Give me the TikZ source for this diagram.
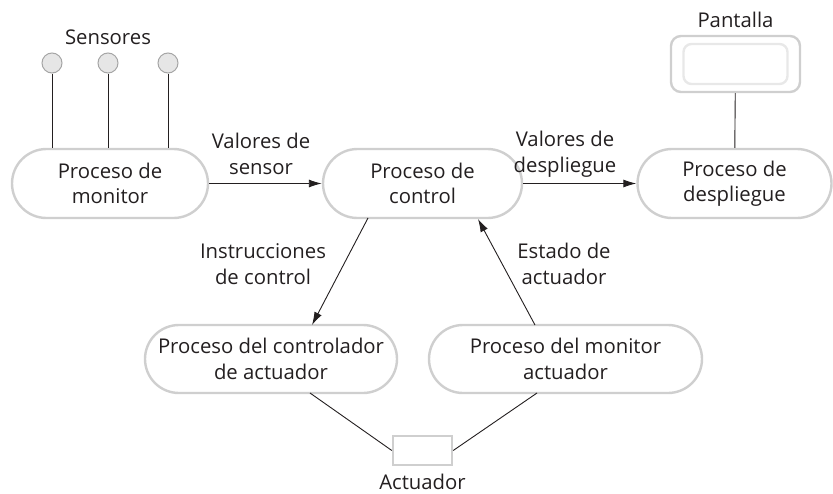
\documentclass[tikz,border=0pt]{standalone}
\usepackage{fontspec}
\setmainfont{Open Sans}
\usetikzlibrary{arrows.meta,shapes.misc}
\definecolor{boxgray}{HTML}{CFCFCF}
\definecolor{innergray}{HTML}{E8E8E8}
\definecolor{sensfill}{HTML}{E6E6E6}
\definecolor{txt}{HTML}{231F20}
\begin{document}
\begin{tikzpicture}[x=1pt,y=-1pt,
  every node/.style={text=txt},
  proc/.style={draw=boxgray,line width=2.4pt,rounded rectangle,minimum height=69pt,align=center,font=\fontsize{20.3}{25.5}\selectfont,fill=white,inner sep=0pt},
  lbl/.style={align=center,font=\fontsize{20.3}{25.5}\selectfont,inner sep=0pt},
  conn/.style={line width=0.9pt,draw=txt},
  arr/.style={conn,-{Latex[length=13pt,width=8pt]}},
  sensor/.style={circle,draw=boxgray!80!black,fill=sensfill,minimum size=20pt,inner sep=0pt,line width=1pt}]
\useasboundingbox (0,0) rectangle (833,493);
% nodes
\node[proc,minimum width=196pt] (mon) at (110,183.5) {Proceso de\\monitor};
\node[proc,minimum width=199pt] (ctl) at (422.5,183.5) {Proceso de\\control};
\node[proc,minimum width=194pt] (dsp) at (734.5,183.5) {Proceso de\\despliegue};
\node[proc,minimum width=252pt,minimum height=68pt] (act) at (271,359) {Proceso del controlador\\de actuador};
\node[proc,minimum width=273pt,minimum height=68pt] (amon) at (565.5,359) {Proceso del monitor\\actuador};
\node[sensor] (s1) at (52,63) {};
\node[sensor] (s2) at (108,63) {};
\node[sensor] (s3) at (168,63) {};
\node[lbl] (slab) at (108,37) {Sensores};
\node[draw=boxgray,line width=2.4pt,rounded corners=10pt,minimum width=129pt,minimum height=56pt] (pant) at (735.5,64) {};
\node[draw=innergray,line width=2.4pt,rounded corners=8pt,minimum width=104pt,minimum height=40pt] (pinner) at (735.5,64) {};
\node[lbl] (plab) at (735.5,20) {Pantalla};
\node[draw=boxgray,line width=2.4pt,minimum width=59pt,minimum height=29pt] (actr) at (422.5,450.5) {};
\node[lbl] (alab) at (422.5,482) {Actuador};
% connectors
\draw[conn] (s1) -- (s1 |- mon.north);
\draw[conn] (s2) -- (s2 |- mon.north);
\draw[conn] (s3) -- (s3 |- mon.north);
\draw[conn] (pant) -- (dsp);
\draw[arr] (mon.east) -- (ctl.west);
\draw[arr] (ctl.east) -- (dsp.west);
\coordinate (c1) at (368,218);
\coordinate (c2) at (312,325);
\coordinate (c3) at (535,325);
\coordinate (c4) at (478,219);
\draw[arr] (c1) -- (c2);
\draw[arr] (c3) -- (c4);
\coordinate (b1) at (310,393);
\coordinate (b2) at (537,393);
\draw[conn] (b1) -- (actr.west);
\draw[conn] (b2) -- (actr.east);
% labels
\node[lbl] at (261,154) {Valores de\\sensor};
\node[lbl] at (565,154) {Valores de\\despliegue};
\node[lbl] at (263,264) {Instrucciones\\de control};
\node[lbl] at (564,264) {Estado de\\actuador};
\end{tikzpicture}
\end{document}
